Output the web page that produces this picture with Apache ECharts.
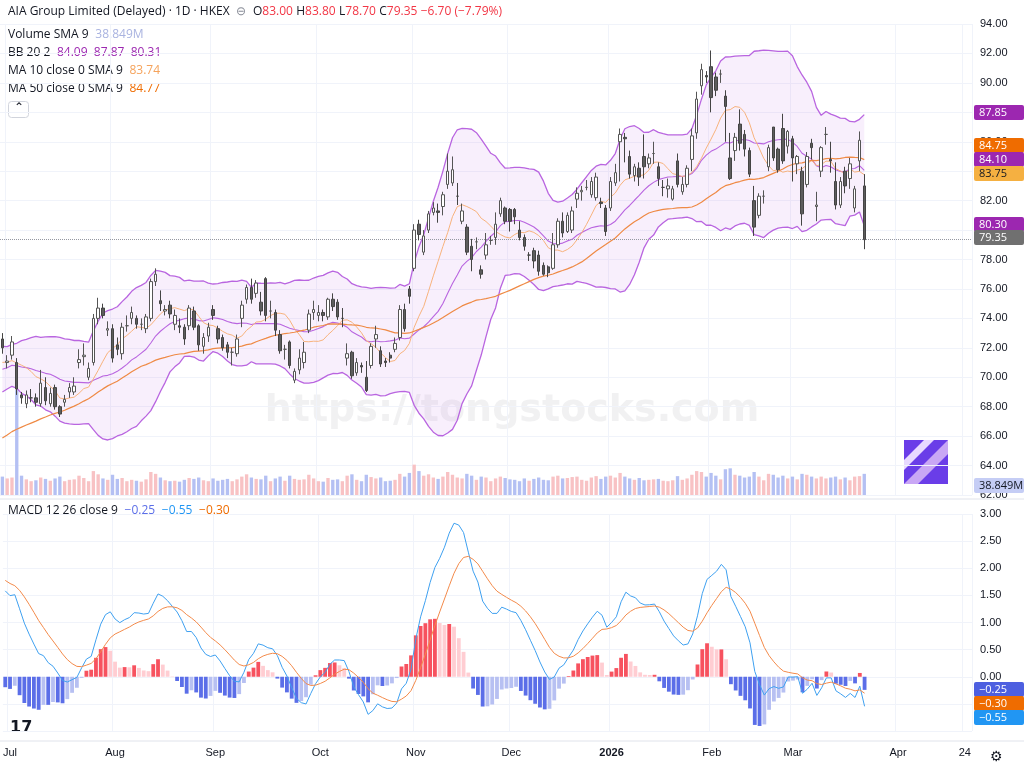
<!DOCTYPE html>
<html><head><meta charset="utf-8">
<script src="https://cdn.jsdelivr.net/npm/echarts@6/dist/echarts.min.js"></script>
<style>html,body{margin:0;padding:0;background:#fff}#c{width:1024px;height:768px}</style>
</head><body><div id="c"></div>
<script>
// estimated closes before the visible window (warm-up for indicators)
const priorCloses = [60.5,60.8,61.2,60.9,61.5,61.8,62.0,61.6,61.9,62.3,62.0,62.5,62.8,62.4,62.1,62.6,63.0,62.7,62.4,62.9,63.2,63.5,63.1,63.4,63.8,63.0,62.8,63.5,64.0,64.6,
68.6,69.2,69.0,69.8,70.3,69.6,70.1,70.8,71.2,70.6,70.2,70.9,71.4,70.8,70.1,70.5,71.2,71.8,71.0,70.4];
// [open, close, low, high]
const ohlc = [
[72.6,72.0,71.6,73.0],[71.0,71.1,70.6,71.5],[71.5,72.4,71.2,72.8],[71.0,69.2,68.8,71.3],[68.8,68.6,68.2,69.0],[68.2,68.8,67.9,69.1],[68.6,68.6,68.3,69.2],[68.6,68.3,68.0,68.9],[68.2,69.6,68.0,70.5],[69.3,68.4,68.1,70.0],
[68.2,68.9,68.0,69.3],[69.3,68.0,67.8,69.5],[68.0,67.5,67.3,68.1],[68.3,68.5,68.0,68.8],[69.0,69.3,68.6,69.6],[69.0,69.4,68.8,70.0],[71.0,71.2,70.6,71.9],[71.4,71.5,70.8,72.3],[70.0,70.6,69.8,71.0],[71.0,74.0,70.8,74.3],
[74.0,74.7,73.6,75.4],[74.7,74.2,74.0,75.0],[73.2,73.3,72.8,73.8],[73.3,71.3,71.0,73.6],[72.2,71.9,71.5,72.7],[71.6,73.4,71.2,73.7],[73.5,73.5,73.1,74.2],[74.0,74.4,73.6,74.8],[74.0,73.6,73.3,74.2],[73.6,73.6,73.2,74.0],
[73.3,74.1,73.0,74.3],[74.0,76.5,73.8,76.7],[76.5,77.0,76.2,77.4],[75.2,75.0,74.5,75.9],[74.5,74.6,74.2,74.9],[74.9,74.3,74.0,75.2],[73.6,74.2,73.2,74.6],[73.5,73.4,73.0,74.0],[73.4,72.6,72.2,73.6],[73.5,74.7,73.2,74.9],
[74.5,73.4,73.2,74.8],[73.5,72.2,71.8,73.6],[72.1,72.7,71.6,73.0],[72.8,73.4,72.4,73.7],[74.6,74.2,73.9,74.9],[73.3,72.6,72.3,73.5],[72.7,72.0,71.8,72.9],[72.2,71.7,71.3,72.4],[71.7,71.7,70.8,72.0],[71.6,72.6,71.4,72.9],
[74.0,74.9,73.4,75.2],[75.3,76.1,75.0,76.3],[76.1,75.3,75.0,76.7],[75.7,76.4,75.4,76.6],[75.1,74.5,74.2,75.8],[76.7,74.2,73.8,76.8],[74.5,74.5,74.0,75.2],[74.4,73.2,72.8,74.6],[72.9,71.8,71.6,73.2],[71.9,71.9,71.2,72.2],
[72.4,70.8,70.6,72.5],[69.8,70.4,69.6,70.6],[70.5,71.3,70.2,71.9],[71.0,71.7,70.6,72.4],[73.2,74.3,73.0,74.6],[74.4,74.6,73.9,75.2],[74.2,74.4,73.8,74.9],[74.4,74.2,73.8,74.6],[74.1,75.3,73.9,75.4],[75.3,74.8,74.5,75.7],
[75.1,74.1,73.9,75.3],[74.0,74.0,73.4,74.7],[71.3,71.6,70.8,72.3],[71.7,70.1,69.9,71.8],[70.3,71.0,70.1,71.3],[70.8,70.7,70.3,71.0],[70.0,69.1,69.0,71.1],[70.8,72.1,70.6,72.3],[72.6,72.9,72.0,73.5],[71.8,70.9,70.7,72.1],
[71.1,71.0,70.7,71.3],[71.5,71.3,71.0,71.7],[71.9,72.3,71.7,72.7],[72.7,74.6,72.5,74.9],[74.6,73.3,73.1,75.0],[76.0,75.5,75.0,76.2],[77.4,80.0,77.2,80.4],[80.4,79.7,79.3,80.7],[78.5,79.6,78.3,80.0],[80.0,81.1,79.8,81.3],
[81.2,81.5,81.0,81.9],[81.3,81.2,80.5,81.8],[81.6,82.4,81.0,82.6],[83.1,84.0,82.8,85.2],[83.2,84.1,83.0,85.0],[82.3,82.3,81.7,83.2],[80.6,81.3,80.4,81.8],[80.2,78.5,78.3,80.4],[78.9,78.0,77.2,79.4],[79.2,79.2,78.7,79.5],
[77.3,77.0,76.7,77.6],[78.3,79.0,78.0,79.8],[79.3,79.3,79.0,79.6],[79.5,80.4,79.0,81.2],[81.1,82.0,80.9,82.2],[81.5,80.6,80.4,81.6],[81.4,80.6,79.9,81.5],[81.4,80.9,80.4,81.5],[80.0,79.5,79.3,80.6],[79.5,78.9,78.6,79.7],
[78.3,78.3,77.9,78.5],[78.6,77.9,77.4,78.8],[78.3,77.2,76.9,78.6],[77.6,77.0,76.9,77.8],[77.5,77.1,76.8,77.6],[77.4,79.0,77.3,79.8],[79.0,80.6,78.8,80.8],[80.6,79.8,79.5,81.2],[79.9,81.0,79.8,81.2],[80.0,81.3,79.8,81.6],
[82.1,82.5,81.5,82.9],[82.6,82.7,82.0,83.0],[82.9,82.9,82.7,83.4],[82.4,83.3,82.2,83.6],[82.2,83.6,82.0,83.9],[81.9,81.8,81.5,82.2],[81.5,79.9,79.6,81.7],[81.5,83.3,81.3,83.6],[83.2,83.9,83.0,84.5],[86.0,86.5,83.3,86.9],
[86.3,86.2,84.6,86.6],[85.0,83.8,83.5,85.4],[83.7,84.3,83.3,84.5],[84.2,83.6,83.0,84.6],[85.0,84.3,83.5,86.5],[84.5,84.9,84.2,85.2],[85.2,85.2,84.5,86.0],[84.3,83.5,83.0,84.6],[82.9,82.9,82.3,83.4],[82.8,83.0,82.2,83.5],
[82.1,82.8,82.0,83.0],[84.7,83.1,82.9,85.2],[82.6,83.1,82.4,83.6],[83.1,84.2,82.9,84.4],[84.8,86.4,84.0,86.9],[86.6,88.9,86.2,89.4],[89.8,90.9,89.2,91.3],[90.5,90.4,90.0,90.8],[91.1,89.0,88.0,92.2],[90.4,89.5,89.1,90.7],
[90.6,90.6,90.0,90.9],[89.1,88.4,86.0,89.5],[84.9,83.5,83.4,86.6],[85.4,86.3,84.7,86.6],[87.2,85.9,85.4,88.2],[86.5,85.5,85.0,86.8],[85.4,83.8,83.6,85.6],[82.0,80.2,79.6,83.0],[81.0,82.3,80.8,82.5],[82.3,82.3,81.8,82.7],
[84.3,85.6,84.0,85.8],[87.0,84.9,84.7,87.0],[85.5,84.1,83.9,85.6],[86.9,84.7,84.5,87.9],[85.7,86.7,85.2,86.8],[86.2,84.9,83.3,86.4],[84.5,85.0,83.8,85.1],[84.0,81.1,80.3,84.3],[83.1,85.0,82.9,85.3],[85.9,85.6,84.8,86.2],
[81.6,81.7,80.6,82.6],[84.0,85.6,83.6,85.7],[86.5,86.5,85.8,87.0],[84.8,84.7,83.9,86.0],[83.3,81.7,81.4,84.6],[81.7,83.3,81.5,83.6],[84.0,83.0,82.5,84.3],[83.5,84.5,82.8,84.9],[81.5,82.8,81.2,83.0],[84.7,86.1,84.0,86.7],
[83.0,79.35,78.7,83.8]];
// volume in millions (one per candle)
const volume = [
40,36,38,228,42,34,30,32,38,35,31,36,40,30,33,34,42,37,30,52,
45,36,33,44,35,37,30,33,31,29,34,50,46,38,32,30,31,29,33,37,
35,38,32,30,36,31,33,35,30,34,40,45,38,35,34,42,30,36,40,31,
42,35,33,34,44,36,30,29,37,33,34,30,42,45,33,30,44,39,36,38,
30,31,33,46,40,48,66,52,42,45,38,35,40,50,44,38,36,46,42,33,
40,38,30,36,40,37,34,33,30,36,31,35,38,33,32,40,42,36,37,39,
40,33,31,38,41,35,40,42,38,48,40,36,33,37,32,33,34,35,31,30,
32,41,33,36,44,52,50,40,48,42,34,56,58,44,42,38,40,50,40,32,
46,44,38,42,36,40,34,46,44,40,36,40,36,38,40,34,38,32,40,41,
46];
const monthLabels = {'2025-07-02':'Jul','2025-08-01':'Aug','2025-09-01':'Sep','2025-10-02':'Oct','2025-11-03':'Nov','2025-12-01':'Dec','2026-01-02':'2026','2026-02-02':'Feb','2026-03-02':'Mar','2026-04-01':'Apr','2026-04-24':'24'};
const holidays = ['2025-07-01','2025-10-01','2025-10-07','2025-10-29','2025-12-25','2025-12-26','2026-01-01','2026-02-17','2026-02-18','2026-02-19','2026-04-03','2026-04-06','2026-04-07'];

const dates = [];
{let d = new Date(Date.UTC(2025,5,30)); const end = Date.UTC(2026,3,27);
 while (d.getTime() <= end) { const wd = d.getUTCDay(); const s = d.toISOString().slice(0,10);
   if (wd>0 && wd<6 && holidays.indexOf(s)<0) dates.push(s); d = new Date(d.getTime()+86400000);} }

const closes = priorCloses.concat(ohlc.map(r=>r[1]));
const P = priorCloses.length, N = ohlc.length;
function sma(arr,n,i){let s=0;for(let k=i-n+1;k<=i;k++)s+=arr[k];return s/n;}
function ema(arr,n){const a=2/(n+1);const out=[arr[0]];for(let i=1;i<arr.length;i++)out.push(a*arr[i]+(1-a)*out[i-1]);return out;}
const ma10=[],ma50=[],bbU=[],bbL=[],bbM=[],bbW=[];
for(let j=0;j<N;j++){const i=P+j;ma10.push(+sma(closes,10,i).toFixed(3));ma50.push(+sma(closes,50,i).toFixed(3));
 const m=sma(closes,20,i);let v=0;for(let k=i-19;k<=i;k++)v+=(closes[k]-m)**2;const sd=Math.sqrt(v/20);
 bbM.push(+m.toFixed(3));bbU.push(+(m+2*sd).toFixed(3));bbL.push(+(m-2*sd).toFixed(3));bbW.push(+(4*sd).toFixed(3));}
const e12=ema(closes,12),e26=ema(closes,26);const macdAll=e12.map((v,i)=>v-e26[i]);const sigAll=ema(macdAll,9);
const macd=macdAll.slice(P).map(v=>+v.toFixed(3)), sig=sigAll.slice(P).map(v=>+v.toFixed(3));
const hist=macd.map((v,i)=>+(v-sig[i]).toFixed(3));
const histData=hist.map((h,i)=>{const prev=i>0?hist[i-1]:h;let c;
 if(h>=0)c=h>=prev?'#f7525f':'#ffcdd2'; else c=h<=prev?'#5b6ee8':'#b7c0f2';return {value:h,itemStyle:{color:c}};});
const volData=volume.slice(0,N).map((v,i)=>({value:v,itemStyle:{color:ohlc[i][1]>=ohlc[i][0]?'#f8c2c4':'#b4c0f3'}}));

const showIdx=i=>monthLabels[dates[i]]!==undefined;
const ch=echarts.init(document.getElementById('c'));
function tag(y,label,bg,fg){return {type:'group',right:0,top:y-8,z:100,children:[{type:'rect',z:100,shape:{x:0,y:0,width:50,height:15,r:2},style:{fill:bg}},
 {type:'text',z:101,x:5,y:2,style:{text:label,fill:fg||'#fff',font:'11px "Open Sans", sans-serif'}}]};}
const F='Open Sans';
const rich={t:{fill:'#131722',fontSize:12,fontFamily:F},r:{fill:'#f23645',fontSize:12,fontFamily:F},
 p:{fill:'#9c27b0',fontSize:12,fontFamily:F},o1:{fill:'#f5a35c',fontSize:12,fontFamily:F},o2:{fill:'#ef6c00',fontSize:12,fontFamily:F},
 v:{fill:'#a9b3e0',fontSize:12,fontFamily:F},b1:{fill:'#5b6ee8',fontSize:12,fontFamily:F},b2:{fill:'#2196f3',fontSize:12,fontFamily:F},g:{fill:'#8a8e99',fontSize:12}};
ch.setOption({
 animation:false,
 grid:[{left:0,right:52,top:24,height:471},{left:0,right:52,top:380,height:115},{left:0,right:52,top:514,height:217}],
 xAxis:[0,1,2].map(g=>({type:'category',gridIndex:g,data:dates,boundaryGap:true,axisLine:{show:false},axisTick:{show:false},
   splitLine:{show:g!==1,interval:(i)=>showIdx(i),lineStyle:{color:'#f0f3fa'}},
   axisLabel:{show:g===2,interval:(i)=>showIdx(i),formatter:(v)=>monthLabels[v]==='2026'?'{b|2026}':(monthLabels[v]||''),color:'#131722',fontSize:11,margin:16,
     rich:{b:{fontWeight:'bold',fontSize:11,color:'#131722'}}}})),
 yAxis:[
  {gridIndex:0,position:'right',min:62,max:94,interval:2,axisLine:{show:false},axisTick:{show:false},splitLine:{lineStyle:{color:'#f0f3fa'}},
   axisLabel:{formatter:v=>v.toFixed(2),color:'#131722',fontSize:11,margin:8}},
  {gridIndex:1,min:0,max:250,show:false},
  {gridIndex:2,position:'right',min:-1,max:3,interval:0.5,axisLine:{show:false},axisTick:{show:false},splitLine:{lineStyle:{color:'#f0f3fa'}},
   axisLabel:{formatter:v=>v<0?'':v.toFixed(2),color:'#131722',fontSize:11,margin:8}}],
 series:[
  {type:'bar',xAxisIndex:1,yAxisIndex:1,data:volData,barWidth:'70%'},
  {type:'line',data:bbL,stack:'bb',symbol:'none',lineStyle:{opacity:0},z:1},
  {type:'line',data:bbW,stack:'bb',symbol:'none',lineStyle:{opacity:0},areaStyle:{color:'rgba(200,130,235,0.18)'},z:1},
  {type:'line',data:bbU,symbol:'none',lineStyle:{color:'#b965e0',width:1.3},z:2},
  {type:'line',data:bbL,symbol:'none',lineStyle:{color:'#b965e0',width:1.3},z:2},
  {type:'line',data:bbM,symbol:'none',lineStyle:{color:'#b965e0',width:1.1},z:2},
  {type:'line',data:ma10,symbol:'none',lineStyle:{color:'#f7b27c',width:1},z:3},
  {type:'line',data:ma50,symbol:'none',lineStyle:{color:'#ef8a45',width:1.2},z:3},
  {type:'candlestick',data:ohlc,barWidth:'62%',z:5,itemStyle:{color:'#ffffff',color0:'#5d5d5d',borderColor:'#555555',borderColor0:'#444444',borderWidth:1},
   markLine:{symbol:'none',silent:true,label:{show:false},lineStyle:{color:'#9598a1',type:'dotted',width:1},data:[{yAxis:ohlc[N-1][1]}]}},
  {type:'bar',xAxisIndex:2,yAxisIndex:2,data:histData,barWidth:'80%'},
  {type:'line',xAxisIndex:2,yAxisIndex:2,data:macd,symbol:'none',lineStyle:{color:'#3ea0f0',width:1}},
  {type:'line',xAxisIndex:2,yAxisIndex:2,data:sig,symbol:'none',lineStyle:{color:'#f38a4a',width:1}}
 ],
 graphic:[
  {type:'text',left:'center',top:392,style:{text:'https://tongstocks.com',font:'bold 38px "DejaVu Sans", sans-serif',fill:'rgba(120,120,130,0.10)'}},
  {type:'text',left:8,top:6,style:{rich,text:'{t|AIA Group Limited (Delayed) · 1D · HKEX}  {g|⊖}  {t|O}{r|83.00} {t|H}{r|83.80} {t|L}{r|78.70} {t|C}{r|79.35} {r|−6.70 (−7.79%)}'}},
  {type:'text',left:8,top:29,style:{rich,text:'{t|Volume SMA 9}  {v|38.849M}'}},
  {type:'text',left:8,top:47,style:{rich,text:'{t|BB 20 2}  {p|84.09  87.87  80.31}'}},
  {type:'text',left:8,top:65,style:{rich,text:'{t|MA 10 close 0 SMA 9}  {o1|83.74}'}},
  {type:'text',left:8,top:83,style:{rich,text:'{t|MA 50 close 0 SMA 9}  {o2|84.77}'}},
  {type:'rect',left:8,top:101,shape:{width:20,height:16,r:3},style:{fill:'#fff',stroke:'#d1d4dc'}},
  {type:'text',left:14,top:102,style:{text:'⌃',font:'12px sans-serif',fill:'#131722'}},
  {type:'text',left:8,top:505,style:{rich,text:'{t|MACD 12 26 close 9}  {b1|−0.25}  {b2|−0.55}  {o2|−0.30}'}},
  {type:'line',shape:{x1:0,y1:499,x2:1024,y2:499},style:{stroke:'#e0e3eb',lineWidth:1}},
  {type:'line',shape:{x1:0,y1:741,x2:1024,y2:741},style:{stroke:'#e0e3eb',lineWidth:1}},
  {type:'group',left:904,top:440,children:[{type:'rect',shape:{width:44,height:44},style:{fill:'#6a3de8'}},
    {type:'polygon',shape:{points:[[0,44],[44,0],[44,14],[14,44]]},style:{fill:'#c9a7f5'}},
    {type:'polygon',shape:{points:[[0,20],[20,0],[30,0],[0,30]]},style:{fill:'#e8d9ff'}}]},
  {type:'text',left:10,top:720,style:{text:'17',font:'bold 16px "DejaVu Sans"',fill:'#131722'}},
  {type:'text',left:990,top:750,style:{text:'⚙',font:'14px "DejaVu Sans"',fill:'#131722'}},
  tag(113,'87.85','#9c27b0'),tag(146,'84.75','#ef6c00'),tag(160,'84.10','#9c27b0'),tag(174,'83.75','#f5b041','#131722'),
  tag(225,'80.30','#9c27b0'),tag(238,'79.35','#707070'),tag(486,'38.849M','#c5cdf5','#131722'),
  tag(690,'−0.25','#4d5fe0'),tag(704,'−0.30','#ef6c00'),tag(718,'−0.55','#2196f3')
 ]
});
</script></body></html>
